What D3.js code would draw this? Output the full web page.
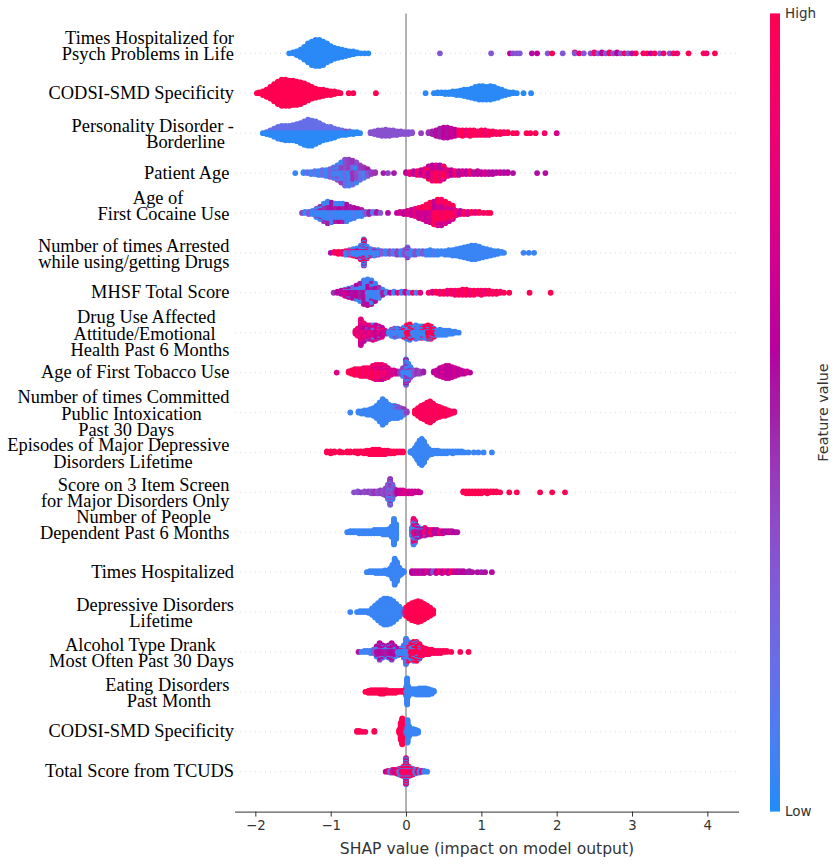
<!DOCTYPE html>
<html>
<head>
<meta charset="utf-8">
<script src="https://cdn.jsdelivr.net/npm/d3@7"></script>
<style>
  body { margin: 0; background: #fff; }
  svg { display: block; }
  .ylab { font-family: "Liberation Serif", "Times New Roman", serif; font-size: 18.4px; fill: #000; white-space: pre; }
  .sans { font-family: "DejaVu Sans", sans-serif; fill: #333; }
</style>
</head>
<body>
<svg id="chart" width="835" height="867"></svg>
<script>
// feature names, top to bottom (trailing spaces / empty lines are part of the labels)
const features = [
  'Times Hospitalized for\nPsych Problems in Life\n',
  'CODSI-SMD Specificity',
  'Personality Disorder -\nBorderline  ',
  'Patient Age ',
  'Age of           \nFirst Cocaine Use \n',
  'Number of times Arrested \nwhile using/getting Drugs ',
  'MHSF Total Score ',
  'Drug Use Affected    \nAttitude/Emotional    \nHealth Past 6 Months ',
  'Age of First Tobacco Use ',
  'Number of times Committed \nPublic Intoxication       \nPast 30 Days             ',
  'Episodes of Major Depressive \nDisorders Lifetime         ',
  'Score on 3 Item Screen \nfor Major Disorders Only ',
  'Number of People     \nDependent Past 6 Months \n',
  'Times Hospitalized',
  'Depressive Disorders\nLifetime         ',
  'Alcohol Type Drank    \nMost Often Past 30 Days',
  'Eating Disorders \nPast Month     ',
  'CODSI-SMD Specificity',
  'Total Score from TCUDS'
];

// each row: [SHAP value, number of samples, feature value 0 (low) .. 1 (high)]
const timesHospPsych = [
  [-1.55,1,0.02],[-1.50,2,0.02],[-1.45,5,0.02],[-1.40,9,0.02],[-1.35,15,0.02],[-1.30,22,0.02],
  [-1.25,27,0.02],[-1.20,30,0.02],[-1.15,30,0.02],[-1.10,27,0.02],[-1.05,22,0.02],[-1.00,17,0.02],
  [-0.95,13,0.02],[-0.90,11,0.02],[-0.85,9,0.02],[-0.80,7,0.02],[-0.75,5,0.02],[-0.70,4,0.02],
  [-0.65,2,0.02],[-0.60,1,0.02],[-0.55,1,0.02],[-0.50,1,0.02],
  [0.45,1,0.3],[1.13,1,0.3],[1.38,1,0.6],[1.42,1,0.35],[1.47,1,0.3],[1.51,1,0.3],[1.67,1,0.55],
  [1.74,1,0.6],[1.88,1,0.3],[1.94,1,1.0],[2.08,1,0.3],[2.24,1,0.3],[2.24,1,0.9],[2.30,1,0.85],
  [2.36,1,0.3],[2.45,1,0.35],[2.50,2,0.9],[2.55,1,0.3],[2.60,2,0.6],[2.65,1,0.3],[2.70,2,0.95],
  [2.75,1,0.35],[2.80,2,0.6],[2.85,1,0.3],[2.90,1,0.9],[2.95,1,0.3],[3.00,1,0.55],[3.05,1,0.95],
  [3.15,1,0.9],[3.20,1,1.0],[3.25,1,0.6],[3.30,1,0.95],[3.37,1,0.3],[3.42,1,0.9],[3.50,1,0.35],
  [3.55,1,0.95],[3.60,1,0.85],[3.75,1,1.0],[3.95,1,1.0],[3.99,1,0.9],[4.10,1,1.0]
];
const codsiSpec = [
  [-1.98,1,1],[-1.95,2,1],[-1.90,5,1],[-1.85,9,1],[-1.80,14,1],[-1.75,20,1],[-1.70,26,1],
  [-1.65,30,1],[-1.60,30,1],[-1.55,29,1],[-1.50,28,1],[-1.45,27,1],[-1.40,25,1],[-1.35,22,1],
  [-1.30,18,1],[-1.25,14,1],[-1.20,11,1],[-1.15,9,1],[-1.10,8,1],[-1.05,6,1],[-1.00,5,1],
  [-0.95,4,1],[-0.90,2,1],[-0.87,1,1],[-0.76,1,1],[-0.70,1,1],[-0.40,1,1],
  [0.26,1,0.02],[0.37,1,0.02],[0.42,2,0.02],[0.47,2,0.02],[0.52,3,0.02],[0.57,3,0.02],[0.62,4,0.02],
  [0.67,5,0.02],[0.72,6,0.02],[0.77,8,0.02],[0.82,9,0.02],[0.87,11,0.02],[0.92,14,0.02],[0.97,16,0.02],
  [1.02,16,0.02],[1.07,15,0.02],[1.12,16,0.02],[1.17,14,0.02],[1.22,11,0.02],[1.27,8,0.02],
  [1.32,5,0.02],[1.37,3,0.02],[1.42,2,0.02],[1.47,1,0.02],[1.56,1,0.02],[1.66,1,0.02]
];
const borderline = [
  [-1.90,1,0.02],[-1.85,2,0.02],[-1.85,1,0.18],[-1.80,3,0.02],[-1.80,3,0.18],[-1.75,5,0.02],[-1.75,5,0.18],
  [-1.70,7,0.02],[-1.70,7,0.18],[-1.65,8,0.02],[-1.65,8,0.18],[-1.60,9,0.02],[-1.60,8,0.18],
  [-1.55,9,0.02],[-1.55,8,0.18],[-1.50,9,0.02],[-1.50,9,0.18],[-1.45,10,0.02],[-1.45,10,0.18],
  [-1.40,12,0.02],[-1.40,11,0.18],[-1.35,14,0.02],[-1.35,13,0.18],[-1.30,15,0.02],[-1.30,15,0.18],
  [-1.25,15,0.02],[-1.25,14,0.18],[-1.20,13,0.02],[-1.20,13,0.18],[-1.15,11,0.02],[-1.15,11,0.18],
  [-1.10,9,0.02],[-1.10,9,0.18],[-1.05,8,0.02],[-1.05,7,0.18],[-1.00,7,0.02],[-1.00,7,0.18],
  [-0.95,6,0.02],[-0.95,5,0.18],[-0.90,4,0.02],[-0.90,4,0.18],[-0.85,3,0.02],[-0.85,3,0.18],
  [-0.80,3,0.02],[-0.80,2,0.35],[-0.75,2,0.02],[-0.75,2,0.18],[-0.70,3,0.02],[-0.65,2,0.02],[-0.61,1,0.02],
  [-0.47,2,0.33],[-0.42,4,0.33],[-0.37,6,0.33],[-0.32,7,0.33],[-0.27,8,0.33],[-0.22,7,0.33],
  [-0.17,6,0.33],[-0.12,5,0.33],[-0.07,4,0.33],[-0.02,3,0.33],[0.03,3,0.33],[0.08,2,0.33],[0.20,1,0.4],
  [0.30,2,0.45],[0.35,4,0.5],[0.40,7,0.55],[0.45,10,0.5],[0.50,12,0.6],[0.55,12,0.55],[0.60,10,0.65],
  [0.65,8,0.6],[0.70,6,0.9],[0.75,7,1.0],[0.80,6,0.85],[0.85,7,0.95],[0.90,6,1.0],[0.95,5,0.9],
  [1.00,6,1.0],[1.05,6,0.85],[1.10,5,0.95],[1.15,4,1.0],[1.20,3,0.9],[1.25,3,1.0],[1.30,2,0.9],
  [1.35,2,1.0],[1.42,1,1.0],[1.47,1,0.95],[1.60,1,1.0],[1.65,1,0.95],[1.72,1,1.0],[1.84,1,0.9],[2.00,1,0.7]
];
const patientAge = [
  [-1.47,1,0.05],[-1.36,2,0.05],[-1.31,2,0.2],[-1.26,3,0.05],[-1.21,4,0.15],[-1.16,5,0.05],
  [-1.11,6,0.2],[-1.06,7,0.05],[-1.01,9,0.25],[-0.96,8,0.05],[-0.96,4,0.35],[-0.91,10,0.1],
  [-0.91,6,0.35],[-0.86,12,0.05],[-0.86,10,0.4],[-0.81,14,0.2],[-0.81,14,0.35],[-0.76,14,0.05],
  [-0.76,14,0.4],[-0.71,12,0.2],[-0.71,14,0.45],[-0.66,10,0.05],[-0.66,12,0.35],[-0.61,8,0.2],
  [-0.61,8,0.4],[-0.56,6,0.1],[-0.56,6,0.45],[-0.51,4,0.3],[-0.51,4,0.5],[-0.46,3,0.4],
  [-0.41,2,0.45],[-0.30,1,0.5],[-0.24,1,0.4],[-0.16,1,0.5],
  [0.00,2,0.6],[0.05,3,0.85],[0.10,4,0.55],[0.15,5,0.9],[0.20,6,0.6],[0.25,8,0.85],[0.30,8,0.6],
  [0.30,6,1.0],[0.35,9,0.85],[0.35,8,0.6],[0.40,9,1.0],[0.40,8,0.7],[0.45,9,0.85],[0.45,8,0.55],
  [0.50,8,1.0],[0.50,6,0.65],[0.55,7,0.8],[0.60,6,0.6],[0.65,5,0.9],[0.70,5,0.55],[0.75,4,0.7],
  [0.80,4,0.6],[0.85,4,0.85],[0.90,3,0.55],[0.95,4,0.65],[1.00,3,0.6],[1.05,3,0.75],[1.10,3,0.55],
  [1.15,3,0.6],[1.20,2,0.55],[1.25,2,0.65],[1.30,2,0.55],[1.35,2,0.6],[1.42,1,0.55],[1.74,1,0.55],[1.85,1,0.55]
];
const firstCocaine = [
  [-1.38,1,0.4],[-1.34,2,0.05],[-1.29,3,0.3],[-1.24,4,0.05],[-1.19,6,0.05],[-1.19,3,0.4],
  [-1.14,8,0.05],[-1.14,5,0.5],[-1.09,10,0.05],[-1.09,8,0.45],[-1.04,12,0.05],[-1.04,10,0.5],
  [-0.99,10,0.1],[-0.99,10,0.55],[-0.94,10,0.05],[-0.94,8,0.5],[-0.89,10,0.05],[-0.89,8,0.6],
  [-0.84,10,0.05],[-0.84,8,0.5],[-0.79,9,0.05],[-0.79,8,0.55],[-0.74,7,0.05],[-0.74,6,0.5],
  [-0.69,6,0.1],[-0.69,5,0.55],[-0.64,4,0.05],[-0.64,4,0.6],[-0.59,4,0.05],[-0.59,3,0.5],
  [-0.54,3,0.3],[-0.49,3,0.5],[-0.44,2,0.1],[-0.39,2,0.55],[-0.34,1,0.3],[-0.24,1,0.55],
  [-0.12,1,0.6],[-0.08,2,0.7],[-0.03,3,0.6],[0.02,4,0.75],[0.07,6,0.65],[0.12,8,0.8],[0.17,6,0.65],
  [0.17,5,0.95],[0.22,7,0.7],[0.22,6,1.0],[0.27,9,0.65],[0.27,8,0.95],[0.32,10,0.7],[0.32,10,1.0],
  [0.37,11,0.6],[0.37,12,0.95],[0.42,12,0.7],[0.42,14,1.0],[0.47,12,0.65],[0.47,14,0.9],
  [0.52,10,0.75],[0.52,12,1.0],[0.57,8,0.65],[0.57,10,0.95],[0.62,6,0.7],[0.62,8,1.0],[0.67,5,0.8],
  [0.72,4,0.65],[0.77,3,0.95],[0.82,3,0.7],[0.87,2,1.0],[0.92,2,0.75],[0.97,2,1.0],[1.03,1,0.9],
  [1.08,1,0.95],[1.12,1,1.0]
];
const timesArrested = [
  [-1.00,1,0.55],[-0.95,2,0.9],[-0.90,3,1.0],[-0.85,3,0.85],[-0.80,3,0.05],[-0.80,2,1.0],
  [-0.75,4,0.3],[-0.75,2,0.9],[-0.70,5,0.05],[-0.70,3,1.0],[-0.65,6,0.05],[-0.65,4,0.6],
  [-0.60,10,0.05],[-0.60,6,0.9],[-0.56,14,0.05],[-0.56,10,0.55],[-0.56,6,1.0],[-0.52,10,0.05],
  [-0.52,4,0.9],[-0.47,6,0.05],[-0.47,2,0.95],[-0.42,5,0.1],[-0.42,2,0.5],[-0.37,4,0.05],
  [-0.37,2,0.4],[-0.32,4,0.3],[-0.27,4,0.05],[-0.22,4,0.35],[-0.17,4,0.1],[-0.12,5,0.4],
  [-0.07,5,0.05],[-0.02,6,0.35],[0.02,8,0.2],[0.02,4,0.5],[0.07,5,0.05],[0.12,5,0.35],
  [0.17,4,0.05],[0.22,4,0.3],[0.27,5,0.05],[0.32,6,0.05],[0.37,5,0.1],[0.42,5,0.05],[0.47,4,0.05],
  [0.52,5,0.05],[0.57,6,0.05],[0.62,7,0.05],[0.67,8,0.05],[0.72,10,0.05],[0.77,12,0.05],
  [0.82,14,0.05],[0.87,16,0.05],[0.92,16,0.05],[0.97,14,0.05],[1.02,11,0.05],[1.07,9,0.05],
  [1.12,7,0.05],[1.17,5,0.05],[1.22,4,0.05],[1.27,2,0.05],[1.30,1,0.05],[1.56,1,0.05],
  [1.63,1,0.05],[1.70,1,0.05]
];
const mhsfTotal = [
  [-0.96,1,0.45],[-0.91,2,0.6],[-0.86,4,0.55],[-0.81,5,0.7],[-0.81,2,0.1],[-0.76,6,0.6],
  [-0.76,3,0.05],[-0.71,6,0.55],[-0.71,5,0.2],[-0.66,8,0.6],[-0.66,6,0.05],[-0.61,10,0.5],
  [-0.61,8,0.05],[-0.56,12,0.55],[-0.56,12,0.05],[-0.51,12,0.6],[-0.51,14,0.1],[-0.46,10,0.5],
  [-0.46,14,0.05],[-0.41,8,0.55],[-0.41,10,0.05],[-0.36,5,0.45],[-0.36,6,0.1],[-0.31,3,0.5],
  [-0.31,3,0.05],[-0.26,2,0.1],[-0.21,1,0.6],[-0.16,2,0.05],[-0.11,1,0.8],[-0.06,2,0.05],
  [-0.01,2,0.7],[0.04,1,0.05],[0.09,1,0.9],[0.14,1,0.1],[0.19,1,0.8],[0.30,1,0.9],[0.35,2,0.75],
  [0.40,2,1.0],[0.45,3,0.85],[0.50,3,1.0],[0.55,4,0.8],[0.60,4,0.95],[0.65,5,0.85],[0.70,5,1.0],
  [0.75,6,0.9],[0.80,6,1.0],[0.85,5,0.85],[0.90,5,1.0],[0.95,4,0.9],[1.00,5,0.95],[1.05,4,0.85],
  [1.10,4,1.0],[1.15,3,0.9],[1.20,3,1.0],[1.25,2,0.9],[1.30,1,1.0],[1.37,1,1.0],[1.64,1,1.0],[1.92,1,1.0]
];
const drugUseAffected = [
  [-0.67,4,0.8],[-0.64,8,0.85],[-0.60,14,0.8],[-0.60,12,0.65],[-0.56,10,0.85],[-0.56,8,0.6],
  [-0.52,8,0.7],[-0.52,6,0.45],[-0.48,8,0.8],[-0.48,6,0.5],[-0.44,9,0.75],[-0.44,6,0.1],
  [-0.40,8,0.6],[-0.40,6,0.8],[-0.36,8,0.75],[-0.36,4,0.3],[-0.32,6,0.6],[-0.32,4,0.85],
  [-0.28,4,0.7],[-0.23,3,0.05],[-0.19,5,0.05],[-0.19,2,0.4],[-0.15,6,0.1],[-0.15,3,0.45],
  [-0.11,6,0.05],[-0.11,2,0.35],[-0.07,5,0.05],[-0.07,2,0.5],[-0.03,6,0.05],[-0.03,4,1.0],
  [0.01,8,1.0],[0.01,6,0.05],[0.05,10,1.0],[0.05,6,0.05],[0.09,6,0.05],[0.09,4,0.9],[0.13,10,0.05],
  [0.13,4,0.3],[0.17,12,0.05],[0.21,8,0.05],[0.21,4,0.9],[0.25,6,0.05],[0.25,6,1.0],[0.29,10,1.0],
  [0.29,4,0.05],[0.33,10,0.95],[0.33,3,0.05],[0.37,6,1.0],[0.37,3,0.05],[0.41,5,0.05],[0.45,6,0.05],
  [0.49,5,0.05],[0.53,5,0.05],[0.57,4,0.05],[0.61,3,0.05],[0.65,2,0.05],[0.70,1,0.05]
];
const firstTobacco = [
  [-0.92,1,0.75],[-0.76,2,1.0],[-0.72,4,0.95],[-0.68,6,1.0],[-0.64,6,0.9],[-0.60,7,1.0],
  [-0.56,8,0.85],[-0.52,8,1.0],[-0.48,9,0.9],[-0.44,10,1.0],[-0.44,2,0.7],[-0.40,10,0.85],
  [-0.40,4,0.65],[-0.36,10,0.95],[-0.36,4,0.7],[-0.32,10,0.8],[-0.32,4,0.6],[-0.28,8,0.9],
  [-0.28,4,0.65],[-0.24,6,0.8],[-0.24,3,0.6],[-0.20,5,0.7],[-0.16,4,0.75],[-0.12,3,0.6],
  [-0.08,3,0.4],[-0.04,4,0.05],[-0.04,4,0.4],[0.00,10,0.05],[0.00,8,0.35],[0.00,6,0.55],
  [0.03,10,0.05],[0.03,6,0.45],[0.06,6,0.05],[0.06,4,0.4],[0.10,5,0.3],[0.14,4,0.45],[0.18,3,0.4],
  [0.23,2,0.5],[0.37,2,0.6],[0.41,5,0.65],[0.45,8,0.6],[0.49,10,0.7],[0.53,12,0.6],[0.57,12,0.65],
  [0.61,10,0.6],[0.65,8,0.7],[0.69,6,0.6],[0.73,4,0.65],[0.77,3,0.6],[0.81,2,0.7],[0.85,1,0.6]
];
const publicIntox = [
  [-0.74,1,0.05],[-0.63,2,0.05],[-0.59,3,0.05],[-0.55,4,0.05],[-0.51,5,0.05],[-0.47,6,0.05],
  [-0.43,8,0.05],[-0.39,12,0.05],[-0.35,18,0.05],[-0.31,24,0.05],[-0.27,20,0.05],[-0.23,14,0.05],
  [-0.19,12,0.05],[-0.15,10,0.05],[-0.15,2,0.35],[-0.11,8,0.05],[-0.11,3,0.4],[-0.07,5,0.05],
  [-0.07,4,0.35],[-0.03,3,0.1],[-0.03,3,0.45],[0.01,2,0.4],[0.12,4,1.0],[0.16,8,0.95],[0.20,12,1.0],
  [0.24,14,0.9],[0.28,18,1.0],[0.32,20,0.95],[0.36,16,1.0],[0.40,12,0.9],[0.44,10,1.0],[0.48,8,0.95],
  [0.52,7,1.0],[0.56,5,0.9],[0.60,3,1.0],[0.64,2,0.95]
];
const episodesMDD = [
  [-1.05,2,1],[-1.00,3,1],[-0.95,2,1],[-0.88,2,1],[-0.84,1,1],[-0.78,2,1],[-0.74,2,1],[-0.68,2,1],
  [-0.64,3,1],[-0.60,2,1],[-0.56,3,1],[-0.52,4,1],[-0.48,5,1],[-0.44,6,1],[-0.40,6,1],[-0.36,6,1],
  [-0.32,5,1],[-0.28,5,1],[-0.24,4,0.95],[-0.20,3,1],[-0.16,3,1],[-0.12,2,1],[-0.08,2,0.95],[-0.04,2,1],
  [0.06,2,0.05],[0.09,4,0.05],[0.12,10,0.05],[0.15,18,0.05],[0.18,26,0.05],[0.21,30,0.05],
  [0.24,24,0.05],[0.27,14,0.05],[0.30,8,0.05],[0.34,5,0.05],[0.38,4,0.05],[0.42,4,0.05],
  [0.46,3,0.05],[0.50,3,0.05],[0.54,3,0.05],[0.58,2,0.05],[0.62,3,0.05],[0.66,2,0.05],[0.70,2,0.05],
  [0.74,2,0.05],[0.78,1,0.05],[0.83,1,0.05],[0.90,1,0.05],[0.96,1,0.05],[1.03,1,0.05],[1.14,1,0.05]
];
const screen3Item = [
  [-0.69,1,0.35],[-0.64,2,0.3],[-0.60,1,0.4],[-0.55,2,0.35],[-0.50,2,0.4],[-0.46,3,0.35],
  [-0.42,3,0.45],[-0.38,3,0.35],[-0.34,4,0.4],[-0.30,5,0.35],[-0.27,8,0.4],[-0.24,10,0.3],
  [-0.24,6,0.05],[-0.21,12,0.35],[-0.21,10,0.15],[-0.21,6,0.55],[-0.18,10,0.3],[-0.18,6,0.05],
  [-0.15,6,0.4],[-0.12,4,0.6],[-0.08,4,0.65],[-0.04,4,0.7],[0.00,3,0.75],[0.04,3,0.65],[0.08,3,0.7],
  [0.12,2,0.65],[0.16,2,0.7],[0.19,1,0.65],[0.76,2,1],[0.80,3,1],[0.84,3,1],[0.88,3,1],[0.92,3,1],
  [0.96,3,1],[1.00,3,1],[1.04,2,1],[1.08,3,1],[1.12,2,1],[1.16,2,1],[1.20,2,1],[1.25,1,1],
  [1.37,1,1],[1.47,1,1],[1.78,1,1],[1.94,1,1],[2.11,1,1]
];
const peopleDependent = [
  [-0.78,1,0.05],[-0.74,2,0.05],[-0.70,2,0.05],[-0.66,2,0.05],[-0.62,3,0.05],[-0.58,3,0.05],
  [-0.54,3,0.05],[-0.50,3,0.05],[-0.46,3,0.05],[-0.42,4,0.05],[-0.38,4,0.05],[-0.34,4,0.05],
  [-0.30,5,0.05],[-0.26,5,0.05],[-0.22,6,0.05],[-0.19,10,0.05],[-0.16,24,0.05],[-0.13,14,0.05],
  [0.08,8,0.05],[0.10,14,0.8],[0.10,10,0.05],[0.12,12,0.9],[0.12,8,0.1],[0.14,8,0.55],[0.14,4,0.05],
  [0.17,6,0.5],[0.17,3,0.05],[0.21,5,0.6],[0.21,2,0.05],[0.25,6,0.85],[0.25,2,0.4],[0.29,5,0.55],
  [0.33,5,0.9],[0.37,4,0.6],[0.41,4,0.55],[0.45,3,0.85],[0.49,3,0.6],[0.53,2,0.55],[0.57,2,0.65],
  [0.61,2,0.55],[0.65,1,0.6],[0.68,1,0.55]
];
const timesHosp = [
  [-0.52,1,0.05],[-0.48,2,0.05],[-0.44,2,0.05],[-0.40,3,0.05],[-0.36,3,0.05],[-0.32,3,0.05],
  [-0.28,4,0.05],[-0.24,5,0.05],[-0.21,8,0.05],[-0.18,16,0.05],[-0.15,30,0.05],[-0.12,22,0.05],
  [-0.09,10,0.05],[-0.06,5,0.05],[-0.03,2,0.05],[0.08,3,0.6],[0.12,3,0.55],[0.16,3,0.65],
  [0.20,3,0.55],[0.24,3,0.6],[0.28,2,0.7],[0.32,3,0.55],[0.36,2,0.3],[0.40,3,0.6],[0.44,2,0.9],
  [0.48,3,0.6],[0.52,2,0.8],[0.56,3,0.6],[0.60,2,0.95],[0.64,2,0.65],[0.68,2,0.6],[0.72,2,0.55],
  [0.76,2,0.6],[0.80,1,0.55],[0.84,2,0.5],[0.88,1,0.55],[0.95,1,0.55],[1.00,1,0.5],[1.05,1,0.55],[1.14,1,0.55]
];
const depressiveLifetime = [
  [-0.74,1,0.05],[-0.65,1,0.05],[-0.61,2,0.05],[-0.57,2,0.05],[-0.53,2,0.05],[-0.49,3,0.05],
  [-0.45,8,0.05],[-0.41,14,0.05],[-0.37,20,0.05],[-0.33,26,0.05],[-0.29,30,0.05],[-0.25,30,0.05],
  [-0.21,28,0.05],[-0.17,24,0.05],[-0.13,18,0.05],[-0.09,12,0.05],[-0.05,6,0.05],[-0.03,3,0.4],
  [0.00,10,1],[0.04,16,1],[0.08,20,1],[0.12,22,1],[0.16,24,1],[0.20,22,1],[0.24,18,1],[0.28,14,1],
  [0.32,10,1],[0.36,5,1]
];
const alcoholType = [
  [-0.63,1,0.55],[-0.59,1,0.05],[-0.55,2,0.05],[-0.51,2,0.1],[-0.47,3,0.05],[-0.43,4,0.3],
  [-0.39,6,0.55],[-0.39,4,0.05],[-0.35,10,0.6],[-0.35,6,0.4],[-0.31,8,0.55],[-0.31,4,0.05],
  [-0.27,6,0.5],[-0.27,4,0.1],[-0.23,8,0.55],[-0.23,4,0.05],[-0.19,10,0.6],[-0.19,6,0.4],
  [-0.15,6,0.55],[-0.15,4,0.05],[-0.11,4,0.05],[-0.11,3,0.6],[-0.07,4,0.05],[-0.07,2,0.9],
  [-0.03,8,0.05],[-0.03,4,0.35],[0.00,16,0.05],[0.00,8,0.3],[0.03,10,0.05],[0.03,8,1.0],
  [0.06,8,0.95],[0.06,6,0.05],[0.10,12,1.0],[0.10,6,0.05],[0.14,14,1.0],[0.14,4,0.05],
  [0.18,10,0.95],[0.18,4,0.05],[0.22,8,1.0],[0.26,6,0.9],[0.30,5,1.0],[0.34,4,0.95],[0.38,3,1.0],
  [0.42,3,0.9],[0.46,3,1.0],[0.50,2,0.95],[0.54,2,1.0],[0.60,1,1.0],[0.72,1,1.0],[0.83,1,1.0]
];
const eatingDisorders = [
  [-0.54,1,1],[-0.50,3,1],[-0.46,4,1],[-0.42,4,1],[-0.38,4,1],[-0.34,5,1],[-0.30,5,1],[-0.26,4,1],
  [-0.22,3,1],[-0.18,3,1],[-0.14,3,1],[-0.10,2,1],[-0.06,2,1],[-0.03,2,1],
  [0.00,10,0.05],[0.015,30,0.05],[0.03,12,0.05],[0.06,6,0.05],[0.10,6,0.05],[0.14,7,0.05],
  [0.18,8,0.05],[0.22,8,0.05],[0.26,8,0.05],[0.30,7,0.05],[0.34,5,0.05],[0.37,2,0.05]
];
const codsiSpec2 = [
  [-0.65,2,1],[-0.62,2,1],[-0.58,1,1],[-0.54,1,0.95],[-0.42,2,1],
  [-0.09,4,1],[-0.07,20,1],[-0.05,30,1],[-0.03,10,1],
  [0.00,6,0.05],[0.02,26,0.05],[0.04,12,0.05],[0.07,6,0.05],[0.10,6,0.05],[0.13,5,0.05],[0.16,3,0.05]
];
const tcudsTotal = [
  [-0.27,1,0.6],[-0.24,2,0.9],[-0.21,3,0.05],[-0.18,4,0.9],[-0.15,4,0.55],[-0.12,5,1.0],
  [-0.09,5,0.05],[-0.09,2,0.7],[-0.06,6,0.9],[-0.06,3,0.05],[-0.03,8,1.0],[-0.03,4,0.3],
  [0.00,14,0.9],[0.00,10,0.05],[0.00,6,0.5],[0.03,8,1.0],[0.03,4,0.05],[0.06,6,0.85],[0.06,3,0.05],
  [0.09,5,1.0],[0.09,2,0.4],[0.12,5,0.05],[0.15,4,0.9],[0.18,3,0.05],[0.21,2,0.9],[0.24,2,0.05],[0.28,1,0.05]
];

const rows = [timesHospPsych, codsiSpec, borderline, patientAge, firstCocaine, timesArrested,
  mhsfTotal, drugUseAffected, firstTobacco, publicIntox, episodesMDD, screen3Item, peopleDependent,
  timesHosp, depressiveLifetime, alcoholType, eatingDisorders, codsiSpec2, tcudsTotal];

const xTicks = [-2, -1, 0, 1, 2, 3, 4];

// shap-like red_blue colour map (LCh interpolation, darker in the middle)
const blueH = 4.72, redH = 0.35470565 + 2 * Math.PI;
function shapColor(t) {
  const l = t < 0.5 ? 57 + (40 - 57) * t * 2 : 40 + (54 - 40) * (t - 0.5) * 2;
  const c = 63 + (90 - 63) * t;
  const h = (blueH + (redH - blueH) * t) * 180 / Math.PI;
  return d3.hcl(h, c, l).formatRgb();
}

const svg = d3.select('#chart');
const plotLeft = 235, plotRight = 739, plotTop = 13.4, plotBottom = 811.6;
const N = features.length;

const x = d3.scaleLinear().domain([-2.27, 4.42]).range([plotLeft, plotRight]);
const y = d3.scaleLinear().domain([-1, N]).range([plotBottom, plotTop]);
const rowPx = y(0) - y(1);

// row gridlines
svg.append('g').selectAll('line')
  .data(features)
  .join('line')
  .attr('x1', plotLeft).attr('x2', plotRight)
  .attr('y1', (d, i) => y(N - 1 - i)).attr('y2', (d, i) => y(N - 1 - i))
  .attr('stroke', '#cccccc').attr('stroke-width', 0.7)
  .attr('stroke-dasharray', '1,4');

// zero line
svg.append('line')
  .attr('x1', x(0)).attr('x2', x(0)).attr('y1', plotTop).attr('y2', plotBottom)
  .attr('stroke', '#999999').attr('stroke-width', 1.5);

// beeswarm layout like shap: stack samples of a bin alternately up and down
function layoutRow(groups) {
  const pts = [];
  d3.groups(groups, g => g[0]).forEach(([xv, gs]) => {
    const items = [];
    gs.forEach(([v, n, c]) => {
      for (let k = 0; k < n; k++) items.push({ x: v, c: c, r: (k + 0.5) / n });
    });
    items.sort((a, b) => a.r - b.r);
    items.forEach((p, layer) => {
      p.layer = Math.ceil(layer / 2) * ((layer % 2) * 2 - 1);
      pts.push(p);
    });
  });
  const maxUp = d3.max(pts, p => p.layer);
  pts.forEach(p => { p.dy = p.layer * 0.9 * 0.4 / (maxUp + 1); });
  return pts;
}

const dots = svg.append('g');
rows.forEach((row, i) => {
  const pos = N - 1 - i;
  const pts = layoutRow(row);
  pts.sort((a, b) => Math.abs(b.layer) - Math.abs(a.layer));
  dots.append('g').selectAll('circle')
    .data(pts)
    .join('circle')
    .attr('cx', d => x(d.x))
    .attr('cy', d => y(pos) - d.dy * rowPx)
    .attr('r', 2.9)
    .attr('fill', d => shapColor(d.c));
});

// feature labels
const labels = svg.append('g');
features.forEach((name, i) => {
  const lines = name.split('\n');
  const n = lines.length;
  const yc = y(N - 1 - i) + (n > 1 ? 7 : 5.5);
  const t = labels.append('text')
    .attr('class', 'ylab')
    .attr('text-anchor', 'end')
    .attr('xml:space', 'preserve');
  lines.forEach((ln, j) => {
    t.append('tspan')
      .attr('x', 234)
      .attr('y', yc + (j - (n - 1) / 2) * 16.2)
      .text(ln);
  });
});

// x axis
const xAxis = svg.append('g')
  .attr('transform', `translate(0,${plotBottom})`)
  .call(d3.axisBottom(x).tickValues(xTicks).tickFormat(d3.format('d'))
    .tickSize(5).tickPadding(4).tickSizeOuter(0));
xAxis.select('.domain').attr('stroke', '#333').attr('stroke-width', 1).attr('d', `M${plotLeft},0.5H${plotRight}`);
xAxis.selectAll('.tick line').attr('stroke', '#333');
xAxis.selectAll('.tick text')
  .attr('class', 'sans')
  .style('font-size', '13.3px')
  .attr('fill', '#333');

svg.append('text')
  .attr('class', 'sans')
  .attr('x', (plotLeft + plotRight) / 2).attr('y', 854)
  .attr('text-anchor', 'middle')
  .style('font-size', '15.6px')
  .text('SHAP value (impact on model output)');

// colour bar
const grad = svg.append('defs').append('linearGradient')
  .attr('id', 'cbar').attr('x1', 0).attr('x2', 0).attr('y1', 1).attr('y2', 0);
grad.selectAll('stop')
  .data(d3.range(0, 1.0001, 0.02))
  .join('stop')
  .attr('offset', d => d)
  .attr('stop-color', d => shapColor(d));

svg.append('rect')
  .attr('x', 770).attr('y', plotTop).attr('width', 10).attr('height', plotBottom - plotTop)
  .attr('fill', 'url(#cbar)');

svg.append('text').attr('class', 'sans')
  .attr('x', 785).attr('y', plotTop).attr('dy', '0.36em')
  .style('font-size', '13.5px').text('High');
svg.append('text').attr('class', 'sans')
  .attr('x', 785).attr('y', plotBottom).attr('dy', '0.36em')
  .style('font-size', '13.5px').text('Low');
svg.append('text').attr('class', 'sans')
  .attr('transform', `translate(828,${(plotTop + plotBottom) / 2}) rotate(-90)`)
  .attr('text-anchor', 'middle')
  .style('font-size', '14.4px').text('Feature value');
</script>
</body>
</html>
